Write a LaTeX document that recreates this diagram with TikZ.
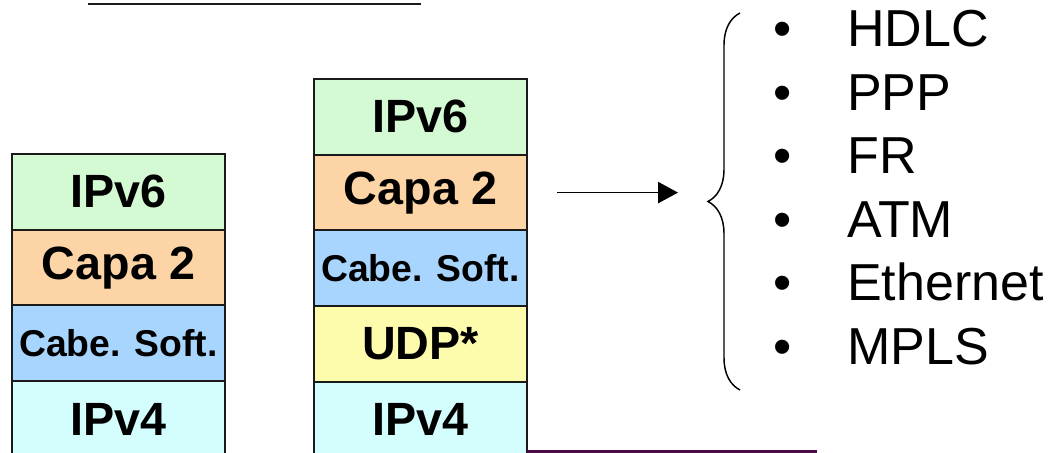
\documentclass[tikz,border=0pt]{standalone}
\usepackage{fontspec}
\setmainfont{Liberation Sans}
\usepackage{tikz}
\usetikzlibrary{positioning,arrows.meta,decorations.pathreplacing}
\definecolor{StackLine}{HTML}{1A1A1A}
\definecolor{StackGreen}{HTML}{D4FAD4}
\definecolor{StackOrange}{HTML}{FCD4A6}
\definecolor{StackBlue}{HTML}{A8D5FD}
\definecolor{StackYellow}{HTML}{FDFCAC}
\definecolor{StackCyan}{HTML}{D4FDFD}
\definecolor{StackPurple}{HTML}{4B0B45}
\tikzset{
  layer/.style={draw=StackLine,line width=1.5pt,minimum width=159.75pt,minimum height=56.8pt,
    inner sep=0pt,outer sep=0pt,font=\fontsize{35}{40}\selectfont\bfseries},
  smalllayer/.style={layer,font=\fontsize{28}{32}\selectfont\bfseries},
  listitem/.style={anchor=base west,inner sep=0pt,font=\fontsize{39}{44}\selectfont},
  listdot/.style={anchor=base,inner sep=0pt,font=\fontsize{39}{44}\selectfont},
}

\begin{document}
\begin{tikzpicture}[x=0.75pt,y=-0.75pt]
      \useasboundingbox (0,0) rectangle (1051,453);
      \draw[StackLine,line width=1.5pt] (88,4) -- (421,4);
      \node[layer,fill=StackGreen,anchor=north west] (ipsixA) at (12,154) {IPv6};
      \node[layer,fill=StackOrange,below=0pt of ipsixA] (capaA) {Capa 2};
      \node[smalllayer,fill=StackBlue,below=0pt of capaA] (cabeA) {Cabe. Soft.};
      \node[layer,fill=StackCyan,below=0pt of cabeA] (ipfourA) {IPv4};
      \node[layer,fill=StackGreen,anchor=north west] (ipsixB) at (314,79) {IPv6};
      \node[layer,fill=StackOrange,below=0pt of ipsixB] (capaB) {Capa 2};
      \node[smalllayer,fill=StackBlue,below=0pt of capaB] (cabeB) {Cabe. Soft.};
      \node[layer,fill=StackYellow,below=0pt of cabeB] (udpB) {UDP*};
      \node[layer,fill=StackCyan,below=0pt of udpB] (ipfourB) {IPv4};
      \draw[StackPurple,line width=3pt] (ipfourB.east |- 0,451.5) -- (817,451.5);
      \coordinate (arrowstart) at ([xshift=22.5pt]capaB.east);
      \coordinate (listin) at (678,195);
      \draw[line width=1.1pt,-{Triangle[length=15pt,width=16pt]}] (arrowstart) -- (arrowstart -| listin);
      \coordinate (bracelow) at (740,390);
      \coordinate (bracehigh) at (740,13);
      \draw[line width=1.1pt,decorate,decoration={brace,amplitude=24pt}] (bracelow) -- (bracehigh);
      \foreach \proto [count=\k from 0] in {HDLC,PPP,FR,ATM,Ethernet,MPLS} {
        \node[listdot] (dot\k) at (783,{47+63.4*\k}) {•};
        \node[listitem] (item\k) at (847,{47+63.4*\k}) {\proto};
      }
    \end{tikzpicture}
\end{document}
